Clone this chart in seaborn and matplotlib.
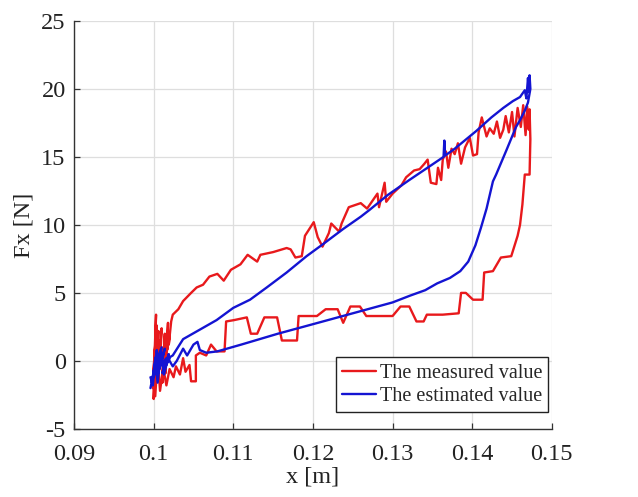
import matplotlib
matplotlib.use('Agg')
import matplotlib.pyplot as plt
import matplotlib.ticker as mticker
import seaborn as sns
import pandas as pd

# Measured force (red) - x [m], Fx [N]
measured_x = [
    0.1000, 0.1001, 0.0999, 0.1002, 0.1000, 0.1003, 0.1001, 0.1004, 0.1002, 0.1005,
    0.1003, 0.1006, 0.1004, 0.1008, 0.1006, 0.1010, 0.1008, 0.1012, 0.1011, 0.1014,
    0.1013, 0.1016, 0.1015, 0.1018, 0.1017, 0.1020, 0.1019, 0.1022,
    0.1024, 0.1031, 0.1037, 0.1047, 0.1054, 0.1062, 0.1070, 0.1080, 0.1088, 0.1097,
    0.1109, 0.1118, 0.1130, 0.1134, 0.1150, 0.1167, 0.1172, 0.1178, 0.1186, 0.1190,
    0.1201, 0.1206, 0.1212, 0.1220, 0.1223, 0.1233, 0.1236, 0.1245, 0.1260, 0.1268,
    0.1281, 0.1283, 0.1290, 0.1292, 0.1300, 0.1311, 0.1317, 0.1327, 0.1334, 0.1340,
    0.1344, 0.1348, 0.1355, 0.1357, 0.1361, 0.1363, 0.1367, 0.1370, 0.1374, 0.1378,
    0.1382, 0.1386, 0.1391, 0.1397, 0.1401, 0.1406, 0.1408, 0.1412, 0.1418, 0.1422,
    0.1427, 0.1431, 0.1435, 0.1439, 0.1442, 0.1446, 0.1450, 0.1453, 0.1457, 0.1461,
    0.1464, 0.1467, 0.1469, 0.1471, 0.1472, 0.1473, 0.1472,
    0.1466, 0.1463, 0.1460, 0.1457, 0.1449, 0.1436, 0.1426, 0.1415, 0.1413, 0.1401,
    0.1392, 0.1386, 0.1383, 0.1363, 0.1343, 0.1339, 0.1330, 0.1321, 0.1310, 0.1300,
    0.1267, 0.1259, 0.1247, 0.1238, 0.1231, 0.1216, 0.1205, 0.1182, 0.1180, 0.1161,
    0.1155, 0.1139, 0.1130, 0.1122, 0.1117, 0.1101, 0.1091, 0.1089, 0.1079, 0.1072,
    0.1066, 0.1058, 0.1053, 0.1053, 0.1047, 0.1045, 0.1040, 0.1037, 0.1033, 0.1028,
    0.1025, 0.1020, 0.1016, 0.1012, 0.1008, 0.1005, 0.1002, 0.1000,
]
measured_f = [
    -1.0, 0.5, -2.0, 1.2, -2.8, 3.4, 0.2, 2.6, -1.2, 1.8,
    -0.5, 2.2, -1.5, 1.5, -0.8, 2.4, -0.2, 1.0, -1.6, 2.0,
    0.3, 1.3, -0.9, 2.8, 0.8, 1.9, 1.2, 2.9,
    3.4, 3.8, 4.4, 5.0, 5.4, 5.6, 6.2, 6.4, 5.9, 6.7,
    7.1, 7.8, 7.3, 7.8, 8.0, 8.3, 8.2, 7.6, 7.7, 9.2,
    10.2, 9.1, 8.4, 9.4, 10.1, 9.5, 10.1, 11.3, 11.6, 11.2,
    12.3, 11.3, 13.1, 11.7, 12.3, 12.9, 13.5, 14.0, 14.1, 14.5,
    14.8, 13.1, 13.0, 14.2, 13.3, 14.8, 15.4, 14.2, 15.6, 15.2,
    16.0, 14.5, 15.7, 16.4, 15.1, 15.2, 16.8, 17.9, 16.5, 17.1,
    16.7, 17.6, 16.4, 17.0, 18.0, 16.8, 18.3, 16.5, 18.6, 17.2,
    18.8, 16.6, 18.7, 17.0, 18.5, 16.3, 13.7,
    13.7, 11.5, 10.0, 9.2, 7.7, 7.6, 6.6, 6.5, 4.5, 4.5,
    5.0, 5.0, 3.5, 3.4, 3.4, 2.9, 2.9, 4.0, 4.0, 3.3,
    3.3, 4.0, 4.0, 2.8, 3.8, 3.8, 3.3, 3.3, 1.5, 1.5,
    3.2, 3.2, 2.0, 2.0, 3.2, 3.0, 2.9, 0.7, 0.7, 1.2,
    0.4, 0.6, 0.4, -1.5, -1.5, -0.3, -0.8, 0.2, -1.0, -0.4,
    -1.2, -0.6, -1.8, -0.5, -2.2, 0.3, -2.6, -1.0,
]

# Estimated force (blue)
estimated_x = [
    0.0996, 0.1001, 0.0998, 0.1004, 0.1000, 0.1008, 0.1002, 0.1010, 0.1005, 0.1012,
    0.1007, 0.1014, 0.1009, 0.1016, 0.1011, 0.1019, 0.1015, 0.1021,
    0.1024, 0.1037, 0.1058, 0.1079, 0.1100, 0.1121, 0.1142, 0.1167, 0.1192, 0.1213,
    0.1238, 0.1260, 0.1271, 0.1294, 0.1321, 0.1359, 0.1364, 0.1365, 0.1366, 0.1378,
    0.1405, 0.1424, 0.1439, 0.1451, 0.1460, 0.1466, 0.1468, 0.1470, 0.1471, 0.1472,
    0.1473,
    0.1470, 0.1466, 0.1460, 0.1455, 0.1443, 0.1430, 0.1426, 0.1418, 0.1411, 0.1404,
    0.1395, 0.1385, 0.1372, 0.1356, 0.1341, 0.1322, 0.1300, 0.1250, 0.1200, 0.1156,
    0.1110, 0.1080, 0.1066, 0.1058, 0.1055, 0.1050, 0.1042, 0.1037, 0.1029, 0.1024,
    0.1018, 0.1013, 0.1009, 0.1005, 0.1002, 0.0999, 0.0996,
]
estimated_f = [
    -2.0, -0.5, -1.6, 0.8, -1.2, 0.3, -0.2, 1.0, -1.0, 0.6,
    -0.6, 0.9, -0.3, 0.2, -0.9, 0.5, -0.4, 0.3,
    0.4, 1.6, 2.3, 3.0, 3.9, 4.5, 5.4, 6.5, 7.7, 8.6,
    9.7, 10.6, 11.1, 12.2, 13.3, 14.8, 15.0, 16.2, 15.1, 15.6,
    16.9, 17.9, 18.6, 19.1, 19.4, 19.9, 19.3, 20.8, 19.8, 21.0,
    20.0,
    19.0, 18.4, 17.7, 17.2, 15.5, 13.7, 13.2, 11.2, 9.8, 8.5,
    7.3, 6.6, 6.1, 5.7, 5.2, 4.8, 4.3, 3.5, 2.7, 2.0,
    1.2, 0.7, 0.6, 0.8, 1.4, 1.2, 0.4, 0.9, 0.0, -0.4,
    0.2, -1.0, 0.5, -1.6, 0.2, -1.8, -1.2,
]

measured = pd.DataFrame({'x': measured_x, 'Fx': measured_f})
estimated = pd.DataFrame({'x': estimated_x, 'Fx': estimated_f})

sns.set_theme(style='ticks')
plt.rcParams['font.family'] = ['Liberation Serif', 'DejaVu Serif']
plt.rcParams['axes.unicode_minus'] = False

fig, ax = plt.subplots(figsize=(6.38, 4.97), dpi=100)
fig.subplots_adjust(left=0.116, right=0.865, top=0.958, bottom=0.137)

sns.lineplot(data=measured, x='x', y='Fx', sort=False, estimator=None,
             color='#e8191c', linewidth=1.7, label='The measured value', ax=ax)
sns.lineplot(data=estimated, x='x', y='Fx', sort=False, estimator=None,
             color='#1414d2', linewidth=1.7, label='The estimated value', ax=ax)

ax.set_xlim(0.09, 0.15)
ax.set_ylim(-5, 25)
ax.set_xticks([0.09, 0.10, 0.11, 0.12, 0.13, 0.14, 0.15])
ax.set_yticks([-5, 0, 5, 10, 15, 20, 25])
ax.xaxis.set_major_formatter(mticker.FormatStrFormatter('%g'))
ax.grid(True, color='#dedede', linewidth=0.9)
ax.set_axisbelow(True)

for s in ['top', 'right']:
    ax.spines[s].set_visible(False)
for s in ['left', 'bottom']:
    ax.spines[s].set_color('#333333')
    ax.spines[s].set_linewidth(1.0)

ax.tick_params(direction='in', length=4, width=0.9, colors='#333333',
               labelsize=17.5, labelcolor='#222222')
ax.tick_params(axis='x', pad=11)
ax.tick_params(axis='y', pad=6)
ax.set_xlabel('x [m]', fontsize=17.5, color='#222222', labelpad=1)
ax.set_ylabel('Fx [N]', fontsize=17.5, color='#222222', labelpad=5)

leg = ax.legend(loc='lower right', bbox_to_anchor=(0.992, 0.042), borderaxespad=0,
                fontsize=14.5, fancybox=False, framealpha=1, edgecolor='#222222',
                handlelength=1.7, handletextpad=0.15, labelspacing=0.2,
                borderpad=0.3)
leg.get_frame().set_linewidth(1.0)

plt.savefig('out.png', dpi=100)
plt.close()
